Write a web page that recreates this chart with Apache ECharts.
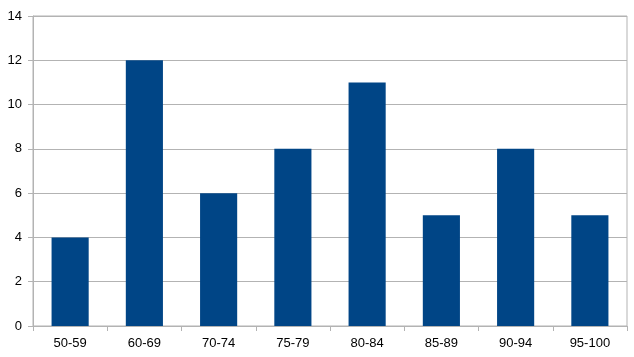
<!DOCTYPE html>
<html>
<head>
<meta charset="utf-8">
<script src="https://cdn.jsdelivr.net/npm/echarts@6/dist/echarts.min.js"></script>
<style>
html,body{margin:0;padding:0;background:#fff;}
#chart{width:634px;height:357px;}
</style>
</head>
<body>
<div id="chart"></div>
<script>
const categories = ["50-59","60-69","70-74","75-79","80-84","85-89","90-94","95-100"];
const values = [4, 12, 6, 8, 11, 5, 8, 5];
const yTicks = [0, 2, 4, 6, 8, 10, 12, 14];

const chart = echarts.init(document.getElementById('chart'), null, {renderer: 'canvas'});
const gridColor = '#b3b3b3';
const font = 'Liberation Sans, Arial, sans-serif';
chart.setOption({
  animation: false,
  grid: {left: 33, right: 7, top: 16, bottom: 31, containLabel: false,
         show: true, borderColor: gridColor, borderWidth: 1},
  xAxis: {
    type: 'category',
    data: categories,
    axisLine: {lineStyle: {color: gridColor, width: 1}},
    axisTick: {show: true, alignWithLabel: false, length: 5, lineStyle: {color: gridColor}},
    axisLabel: {color: '#000', fontSize: 13, fontFamily: font, margin: 11}
  },
  yAxis: {
    type: 'value',
    min: yTicks[0],
    max: yTicks[yTicks.length - 1],
    interval: 2,
    axisLine: {show: true, lineStyle: {color: gridColor, width: 1}},
    axisTick: {show: true, length: 5, lineStyle: {color: gridColor}},
    splitLine: {show: true, lineStyle: {color: gridColor, width: 1}},
    axisLabel: {color: '#000', fontSize: 13, fontFamily: font, margin: 11}
  },
  series: [{
    type: 'bar',
    data: values,
    barWidth: '50%',
    itemStyle: {color: '#004586'}
  }]
});
</script>
</body>
</html>
